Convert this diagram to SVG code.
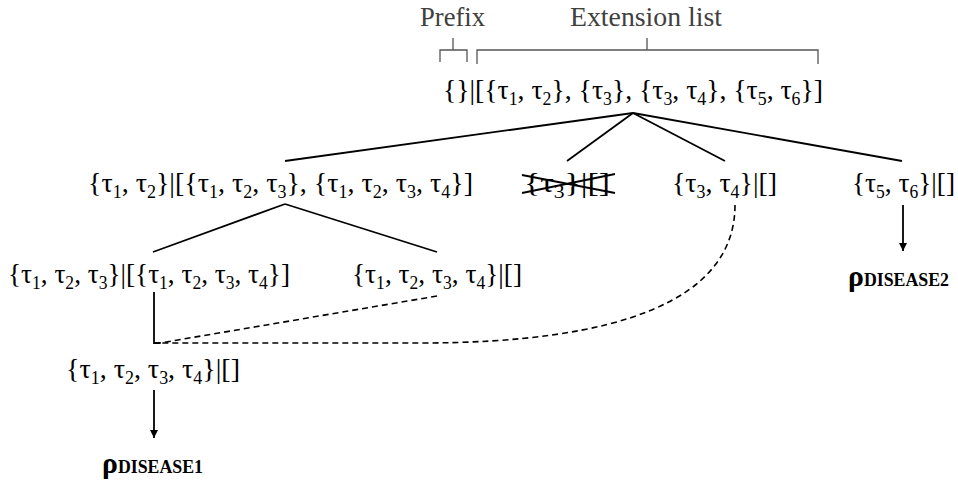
<svg xmlns="http://www.w3.org/2000/svg" width="958" height="482" viewBox="0 0 958 482">
<style>
.t{font-family:"Liberation Serif","Times New Roman",serif;font-size:28px;fill:#000}
.lbl{font-family:"Liberation Serif","Times New Roman",serif;font-size:27px;fill:#404040}
.sub{font-size:18px;baseline-shift:-6px}
.rho{font-family:"Liberation Serif","Times New Roman",serif;font-weight:bold;font-size:30px;fill:#000}
.sc{font-size:18px}
.ln{stroke:#000;stroke-width:1.8;fill:none}
.br{stroke:#555;stroke-width:1.3;fill:none}
.dash{stroke:#000;stroke-width:1.6;fill:none;stroke-dasharray:6 4}
</style>
<defs>
<marker id="ah" viewBox="0 0 10 10" refX="10" refY="5" markerWidth="8" markerHeight="9" markerUnits="userSpaceOnUse" orient="auto">
<path d="M0,0 L10,5 L0,10 z" fill="#000"/>
</marker>
</defs>
<g id="labels">
<text class="lbl" x="420" y="26" textLength="65" lengthAdjust="spacingAndGlyphs">Prefix</text>
<text class="lbl" x="570" y="26" textLength="152" lengthAdjust="spacingAndGlyphs">Extension list</text>
<path class="br" d="M453,38 V50 M440,62 V50 H467 V62"/>
<path class="br" d="M647,38 V50 M477,64 V50 H818 V64"/>
</g>
<g id="n0">
<text class="t" x="443" y="99" textLength="380" lengthAdjust="spacingAndGlyphs">{}|[{τ<tspan class="sub">1</tspan>, τ<tspan class="sub">2</tspan>}, {τ<tspan class="sub">3</tspan>}, {τ<tspan class="sub">3</tspan>, τ<tspan class="sub">4</tspan>}, {τ<tspan class="sub">5</tspan>, τ<tspan class="sub">6</tspan>}]</text>
</g>
<g id="n1">
<text class="t" x="88" y="192" textLength="385" lengthAdjust="spacingAndGlyphs">{τ<tspan class="sub">1</tspan>, τ<tspan class="sub">2</tspan>}|[{τ<tspan class="sub">1</tspan>, τ<tspan class="sub">2</tspan>, τ<tspan class="sub">3</tspan>}, {τ<tspan class="sub">1</tspan>, τ<tspan class="sub">2</tspan>, τ<tspan class="sub">3</tspan>, τ<tspan class="sub">4</tspan>}]</text>
</g>
<g id="n2">
<text class="t" x="524" y="192" textLength="86" lengthAdjust="spacingAndGlyphs">{τ<tspan class="sub">3</tspan>}|[]</text>
<path class="ln" d="M522,175 L615,193 M522,193 L615,174" stroke-width="1.4"/>
</g>
<g id="n3">
<text class="t" x="672" y="192" textLength="105" lengthAdjust="spacingAndGlyphs">{τ<tspan class="sub">3</tspan>, τ<tspan class="sub">4</tspan>}|[]</text>
</g>
<g id="n4">
<text class="t" x="852" y="192" textLength="103" lengthAdjust="spacingAndGlyphs">{τ<tspan class="sub">5</tspan>, τ<tspan class="sub">6</tspan>}|[]</text>
</g>
<g id="n5">
<text class="t" x="8" y="283" textLength="282" lengthAdjust="spacingAndGlyphs">{τ<tspan class="sub">1</tspan>, τ<tspan class="sub">2</tspan>, τ<tspan class="sub">3</tspan>}|[{τ<tspan class="sub">1</tspan>, τ<tspan class="sub">2</tspan>, τ<tspan class="sub">3</tspan>, τ<tspan class="sub">4</tspan>}]</text>
</g>
<g id="n6">
<text class="t" x="352" y="283" textLength="170" lengthAdjust="spacingAndGlyphs">{τ<tspan class="sub">1</tspan>, τ<tspan class="sub">2</tspan>, τ<tspan class="sub">3</tspan>, τ<tspan class="sub">4</tspan>}|[]</text>
</g>
<g id="n7">
<text class="t" x="66" y="378" textLength="174" lengthAdjust="spacingAndGlyphs">{τ<tspan class="sub">1</tspan>, τ<tspan class="sub">2</tspan>, τ<tspan class="sub">3</tspan>, τ<tspan class="sub">4</tspan>}|[]</text>
</g>
<g id="r1">
<text class="rho" x="102" y="473" textLength="101" lengthAdjust="spacingAndGlyphs">ρ<tspan class="sc">DISEASE1</tspan></text>
</g>
<g id="r2">
<text class="rho" x="848" y="286" textLength="101" lengthAdjust="spacingAndGlyphs">ρ<tspan class="sc">DISEASE2</tspan></text>
</g>
<g id="connectors">
<path class="ln" d="M633,113 L285,161"/>
<path class="ln" d="M633,113 L567,161"/>
<path class="ln" d="M633,113 L725,161"/>
<path class="ln" d="M633,113 L902,161"/>
<path class="ln" d="M285,204 L153,252"/>
<path class="ln" d="M285,204 L437,252"/>
<path class="ln" d="M154,292 V343 H160"/>
<path class="dash" d="M437,296 L160,343"/>
<path class="dash" d="M735,205 C735,300 620,343 420,343 L160,343"/>
<path class="ln" d="M154,390 V438" marker-end="url(#ah)"/>
<path class="ln" d="M903,205 V251" marker-end="url(#ah)"/>
</g>
</svg>
